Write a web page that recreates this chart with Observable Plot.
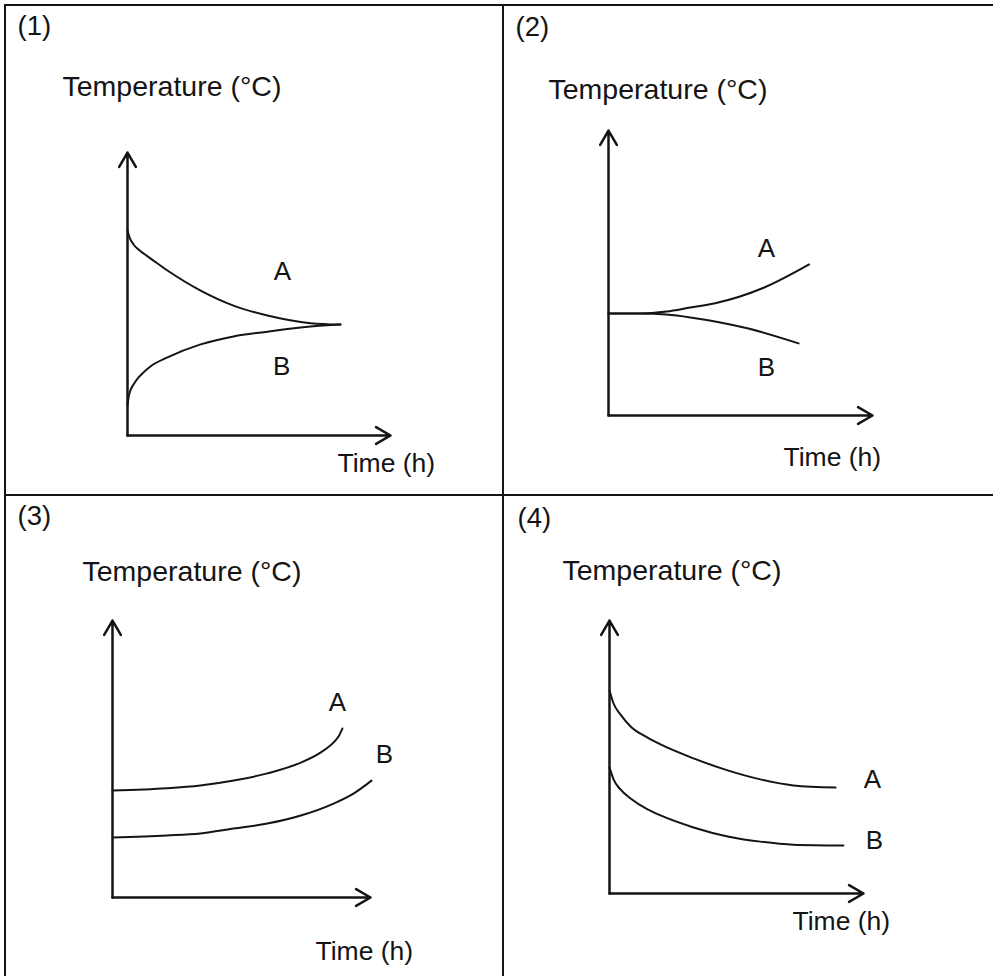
<!DOCTYPE html>
<html>
<head>
<meta charset="utf-8">
<script src="https://cdn.jsdelivr.net/npm/d3@7"></script>
<script src="https://cdn.jsdelivr.net/npm/@observablehq/plot@0.6"></script>
<style>
  html, body { margin: 0; padding: 0; background: #fff; }
  #page { position: relative; width: 993px; height: 976px; overflow: hidden; background: #fff; }
  .cell { position: absolute; }
  .rule { position: absolute; background: #151515; }
</style>
</head>
<body>
<div id="page"></div>
<script>
// Panel tags and series names
const panelTags = ["(1)", "(2)", "(3)", "(4)"];
const seriesNames = ["A", "B"];
const yTitle = "Temperature (°C)";
const xTitle = "Time (h)";

// Panel (1): A cools and B warms toward the same temperature
const p1TimeA = [0, 0.08, 0.23, 0.42, 0.61, 0.87, 1.52, 2.78, 4.03, 5.32, 6.96, 8.10];
const p1TempA = [7.24, 6.99, 6.75, 6.57, 6.43, 6.26, 5.83, 5.12, 4.59, 4.24, 3.97, 3.92];
const p1TimeB = [0, 0.04, 0.11, 0.23, 0.42, 0.61, 0.87, 1.52, 2.78, 4.03, 5.32, 6.96, 8.10];
const p1TempB = [1.06, 1.34, 1.59, 1.80, 2.05, 2.23, 2.44, 2.76, 3.22, 3.50, 3.67, 3.85, 3.92];
const p1LabelTime = [5.89, 5.86];
const p1LabelTemp = [5.80, 2.44];

// Panel (2): same start, A rises and B falls
const p2TimeA = [0, 1.2, 2.2, 3.1, 4.0, 5.9, 7.6];
const p2TempA = [3.58, 3.58, 3.65, 3.79, 3.93, 4.49, 5.30];
const p2TimeB = [0, 1.2, 2.2, 3.1, 5.3, 7.2];
const p2TempB = [3.58, 3.58, 3.54, 3.44, 3.05, 2.53];
const p2LabelTime = [5.98, 5.98];
const p2LabelTemp = [5.86, 1.68];

// Panel (3): both rise, A above B
const p3TimeA = [0, 2.1, 3.4, 4.7, 6.0, 7.3, 8.06, 8.57, 8.76, 8.91];
const p3TempA = [3.86, 3.94, 4.04, 4.22, 4.48, 4.87, 5.23, 5.60, 5.81, 6.10];
const p3TimeB = [0, 2.1, 3.4, 4.7, 6.0, 7.3, 8.57, 9.34, 10.04];
const p3TempB = [2.17, 2.24, 2.31, 2.49, 2.67, 2.96, 3.39, 3.75, 4.22];
const p3LabelTime = [8.72, 10.54];
const p3LabelTemp = [7.04, 5.16];

// Panel (4): both fall, A above B
const p4TimeA = [0, 0.16, 0.43, 0.83, 1.50, 2.01, 3.31, 4.65, 5.94, 7.24, 8.90];
const p4TempA = [7.44, 6.96, 6.56, 6.12, 5.71, 5.46, 4.95, 4.51, 4.18, 3.96, 3.88];
const p4TimeB = [0, 0.16, 0.43, 0.83, 1.50, 2.01, 3.31, 4.65, 5.94, 7.24, 9.21];
const p4TempB = [4.62, 4.18, 3.81, 3.48, 3.08, 2.86, 2.42, 2.09, 1.90, 1.79, 1.76];
const p4LabelTime = [10.35, 10.43];
const p4LabelTemp = [4.18, 1.94];

// Axis extent in data units (origin to arrow tip)
const axisMax = 10;

const series = [
  {timeA: p1TimeA, tempA: p1TempA, timeB: p1TimeB, tempB: p1TempB, lt: p1LabelTime, lv: p1LabelTemp},
  {timeA: p2TimeA, tempA: p2TempA, timeB: p2TimeB, tempB: p2TempB, lt: p2LabelTime, lv: p2LabelTemp},
  {timeA: p3TimeA, tempA: p3TempA, timeB: p3TimeB, tempB: p3TempB, lt: p3LabelTime, lv: p3LabelTemp},
  {timeA: p4TimeA, tempA: p4TempA, timeB: p4TimeB, tempB: p4TempB, lt: p4LabelTime, lv: p4LabelTemp}
];

// Page layout of each cell: cell box, axis origin, arrow tips, and text anchors (page px)
const layout = [
  {cell: [5, 5, 498, 490],   origin: [127, 435], tip: [390, 152], tag: [17, 26],  yt: [62, 86],  xt: [337, 463]},
  {cell: [503, 5, 490, 490], origin: [608, 415], tip: [872, 130], tag: [515, 27], yt: [548, 89], xt: [783, 457]},
  {cell: [5, 495, 498, 481], origin: [112, 897], tip: [370, 620], tag: [17, 516], yt: [82, 571], xt: [315, 951]},
  {cell: [503, 495, 490, 481], origin: [609, 893], tip: [863, 620], tag: [517, 518], yt: [562, 570], xt: [792, 921]}
];

const ink = "#141414";
const font = "'Liberation Sans', Arial, Helvetica, sans-serif";
const page = document.getElementById("page");

function rows(times, temps, name) {
  return times.map((t, i) => ({time: t, temp: temps[i], series: name}));
}

series.forEach((s, k) => {
  const L = layout[k];
  const [cx, cy, cw, ch] = L.cell;
  const mL = L.origin[0] - cx;
  const mB = cy + ch - L.origin[1];
  const mR = cx + cw - L.tip[0];
  const mT = L.tip[1] - cy;
  // offsets of a page point from the frame's top-left corner
  const off = ([px, py]) => ({dx: px - L.origin[0], dy: py - L.tip[1]});

  const curves = [...rows(s.timeA, s.tempA, seriesNames[0]), ...rows(s.timeB, s.tempB, seriesNames[1])];
  const labels = seriesNames.map((n, i) => ({name: n, time: s.lt[i], temp: s.lv[i]}));
  const axes = [
    {x1: 0, y1: 0, x2: axisMax, y2: 0},
    {x1: 0, y1: 0, x2: 0, y2: axisMax}
  ];

  const textAt = (str, p, size) => Plot.text([str], {
    frameAnchor: "top-left", ...off(p), text: d => d,
    textAnchor: "start", lineAnchor: "middle", fontSize: size, fill: ink
  });

  const chart = Plot.plot({
    width: cw,
    height: ch,
    marginLeft: mL,
    marginRight: mR,
    marginTop: mT,
    marginBottom: mB,
    x: {domain: [0, axisMax], axis: null},
    y: {domain: [0, axisMax], axis: null},
    style: {fontFamily: font, background: "transparent", overflow: "visible"},
    marks: [
      Plot.arrow(axes, {x1: "x1", y1: "y1", x2: "x2", y2: "y2",
        stroke: ink, strokeWidth: 2.5, headLength: 10, headAngle: 60}),
      Plot.line(curves, {x: "time", y: "temp", z: "series",
        stroke: ink, strokeWidth: 2, curve: "monotone-x"}),
      Plot.text(labels, {x: "time", y: "temp", text: "name",
        fontSize: 26, fill: ink, textAnchor: "middle", lineAnchor: "middle"}),
      textAt(panelTags[k], L.tag, 27.5),
      textAt(yTitle, L.yt, 28.5),
      textAt(xTitle, L.xt, 26.5)
    ]
  });

  const holder = document.createElement("div");
  holder.className = "cell";
  holder.style.left = cx + "px";
  holder.style.top = cy + "px";
  holder.appendChild(chart);
  page.appendChild(holder);
});

// Outer frame and the dividers between the four cells
const rules = [
  {left: 4, top: 4, width: 989, height: 2},
  {left: 4, top: 4, width: 2, height: 972},
  {left: 502, top: 4, width: 2, height: 972},
  {left: 4, top: 494, width: 989, height: 2}
];
rules.forEach(r => {
  const d = document.createElement("div");
  d.className = "rule";
  Object.assign(d.style, {left: r.left + "px", top: r.top + "px", width: r.width + "px", height: r.height + "px"});
  page.appendChild(d);
});
</script>
</body>
</html>
